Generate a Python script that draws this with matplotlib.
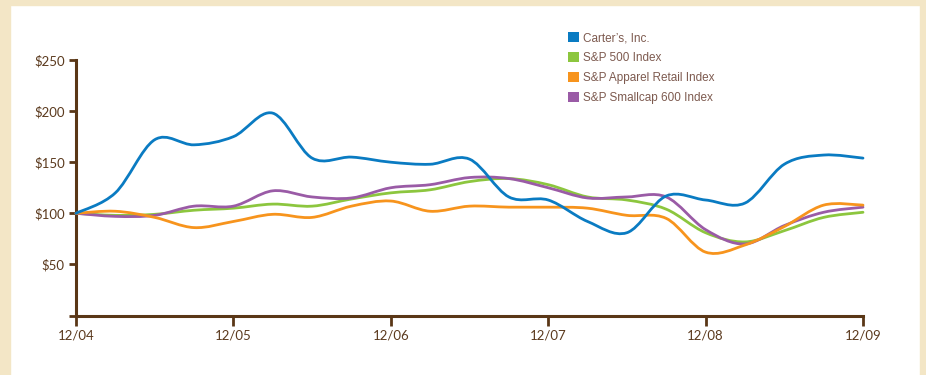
import matplotlib
matplotlib.use("Agg")
import matplotlib.pyplot as plt
from matplotlib.path import Path
from matplotlib.patches import PathPatch, Patch, Rectangle
import numpy as np

# ---- data (quarterly, cumulative value of $100 invested) ----
quarters = [i * 0.25 for i in range(21)]
year_labels = ["12/04", "12/05", "12/06", "12/07", "12/08", "12/09"]
series_names = ["Carter\u2019s, Inc.", "S&P 500 Index", "S&P Apparel Retail Index", "S&P Smallcap 600 Index"]
carters = [100, 120, 172, 167, 175, 198, 154, 155, 150, 148, 153, 116, 113, 92, 81, 117, 113, 110, 148, 157, 154]
sp500 = [100, 98, 99, 103, 105, 109, 107, 114, 120, 123, 131, 134, 128, 116, 113, 104, 81, 72, 83, 96, 101]
apparel = [100, 102, 96, 86, 92, 99, 96, 107, 112, 102, 107, 106, 106, 105, 98, 95, 62, 69, 87, 108, 108]
smallcap = [100, 97, 98, 107, 107, 122, 116, 115, 125, 128, 135, 134, 125, 115, 116, 116, 84, 70, 88, 101, 106]
yticks = [50, 100, 150, 200, 250]
ytick_labels = ["$50", "$100", "$150", "$200", "$250"]

colors = {"carters": "#0a7bc2", "sp500": "#8cc63e", "apparel": "#f7941d", "smallcap": "#9a5ba6"}
brown = "#5a3716"
text_brown = "#5b3a1e"
legend_text = "#7d5a4f"
beige = "#f3e6c6"

W, H = 926, 375
fig = plt.figure(figsize=(W / 100, H / 100), dpi=100)
fig.patch.set_facecolor("white")
# beige frame (left, top, right)
fig.patches.append(Rectangle((0, 0), 10 / W, 1, transform=fig.transFigure, color=beige, zorder=0))
fig.patches.append(Rectangle((0, 1 - 5 / H), 1, 5 / H, transform=fig.transFigure, color=beige, zorder=0))
fig.patches.append(Rectangle((920 / W, 0), 6 / W, 1, transform=fig.transFigure, color=beige, zorder=0))

left, right = 76 / W, 863 / W
bottom = 1 - 315.5 / H
top = 1 - 60 / H
ax = fig.add_axes([left, bottom, right - left, top - bottom])
ax.set_facecolor("none")
ax.set_xlim(0, 5)
ax.set_ylim(0, 250)


def smooth_path(xs, ys):
    P = np.column_stack([xs, ys]).astype(float)
    n = len(P)
    verts = [P[0]]
    codes = [Path.MOVETO]
    for i in range(n - 1):
        p0 = P[i - 1] if i > 0 else P[i]
        p1 = P[i]
        p2 = P[i + 1]
        p3 = P[i + 2] if i + 2 < n else P[i + 1]
        c1 = p1 + (p2 - p0) / 6.0
        c2 = p2 - (p3 - p1) / 6.0
        verts += [c1, c2, p2]
        codes += [Path.CURVE4] * 3
    return Path(np.array(verts), codes)


for key, vals, z in [("sp500", sp500, 3), ("smallcap", smallcap, 4), ("apparel", apparel, 5), ("carters", carters, 6)]:
    patch = PathPatch(smooth_path(quarters, vals), facecolor="none", edgecolor=colors[key],
                      lw=2.0, capstyle="round", joinstyle="round", zorder=z, clip_on=False)
    ax.add_patch(patch)

for s in ["top", "right"]:
    ax.spines[s].set_visible(False)
for s in ["left", "bottom"]:
    ax.spines[s].set_color(brown)
    ax.spines[s].set_linewidth(2.2)

ax.set_yticks([0] + yticks)
ax.set_yticklabels([""] + ytick_labels)
ax.set_xticks(range(6))
ax.set_xticklabels(year_labels)
ax.tick_params(axis="y", direction="out", length=5, width=2, color=brown, labelcolor=text_brown,
               labelsize=9.5, pad=3)
ax.tick_params(axis="x", direction="out", length=7, width=2, color=brown, labelcolor=text_brown,
               labelsize=9.5, pad=3)
for lab in ax.get_xticklabels() + ax.get_yticklabels():
    lab.set_fontfamily("Lato")

handles = [Patch(facecolor=colors[k], edgecolor="none") for k in ["carters", "sp500", "apparel", "smallcap"]]
leg = fig.legend(handles, series_names, loc="upper left", bbox_to_anchor=(568 / W, 1 - 32 / H),
                 frameon=False, handlelength=0.93, handleheight=0.93, handletextpad=0.3,
                 labelspacing=0.66, borderaxespad=0, borderpad=0,
                 prop={"family": "Liberation Sans", "size": 8.5})
for t in leg.get_texts():
    t.set_color(legend_text)

fig.savefig("out.png", dpi=100, facecolor="white")
